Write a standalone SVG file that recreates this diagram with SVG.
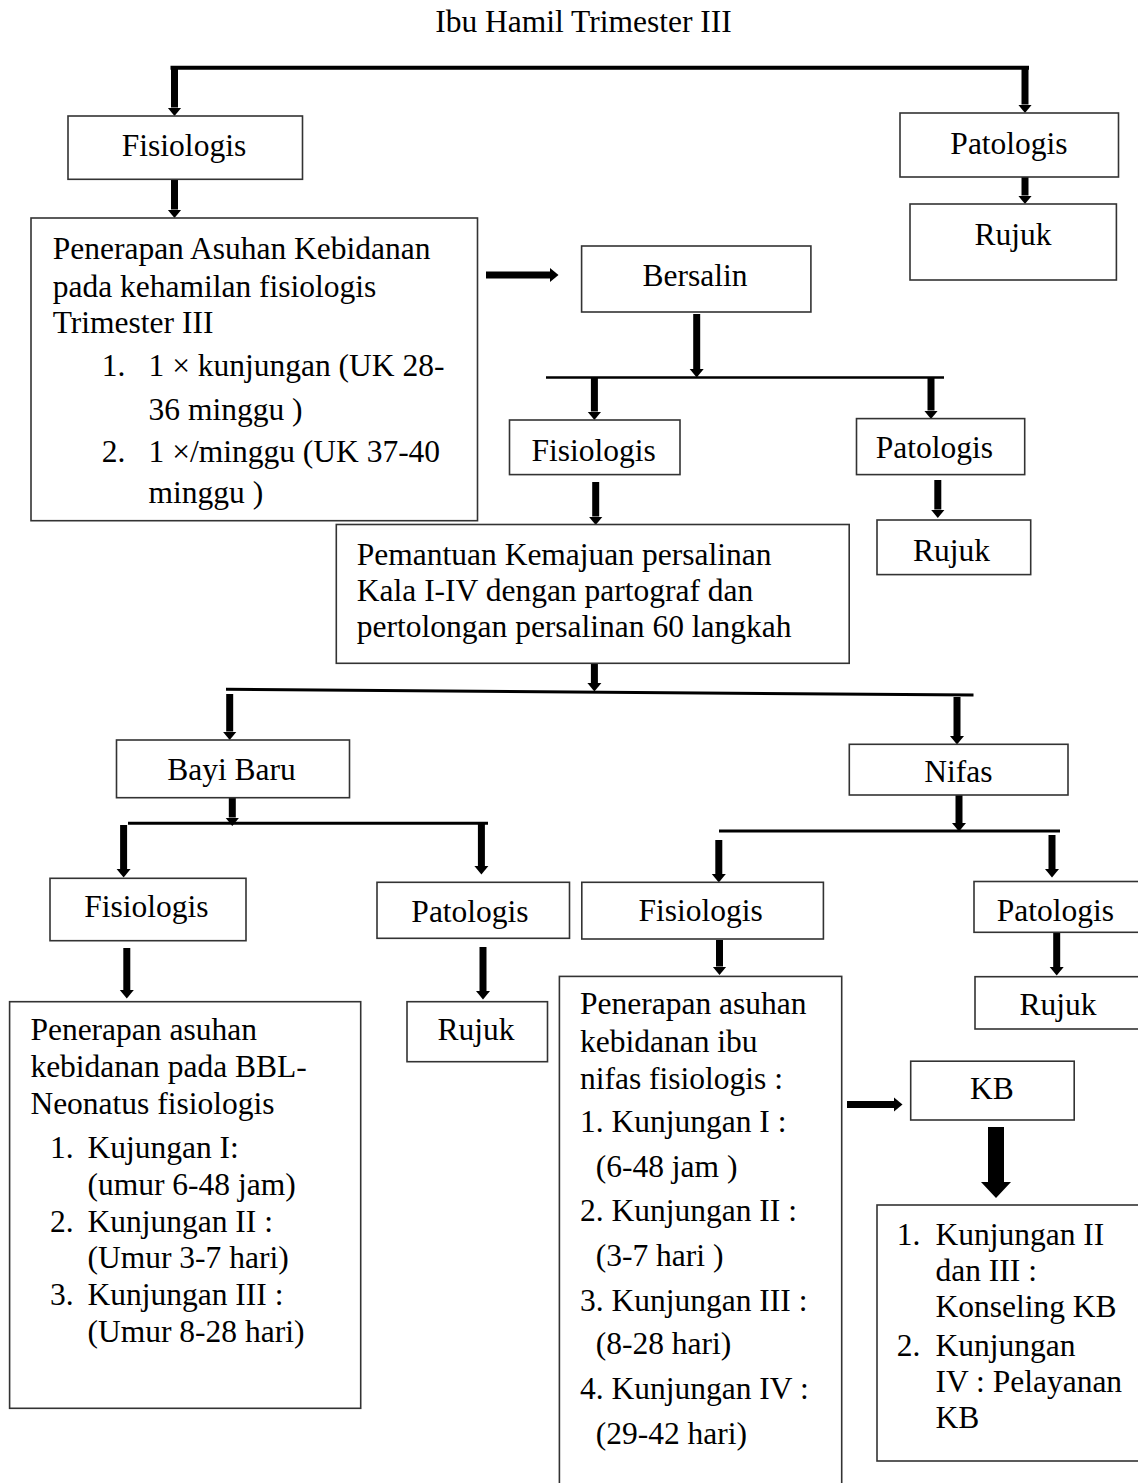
<svg xmlns="http://www.w3.org/2000/svg" width="1138" height="1483" viewBox="0 0 1138 1483">
<style>
  text { font-family: "Liberation Serif", "Times New Roman", serif; font-size: 31.5px; fill: #000; }
  .c { text-anchor: middle; }
  .box { fill: #fff; stroke: #333; stroke-width: 1.6; }
  .arr { stroke: #000; stroke-width: 7; fill: none; marker-end: url(#ah); }
  .bar { stroke: #000; fill: none; }
</style>
<defs>
  <marker id="ah" markerUnits="userSpaceOnUse" markerWidth="9" markerHeight="16" viewBox="0 -8 9 16" refX="0" refY="0" orient="auto">
    <path d="M0,-7 L8.5,0 L0,7 z" fill="#000"/>
  </marker>
</defs>
<rect x="0" y="0" width="1138" height="1483" fill="#fff"/>

<g id="title"><text class="c" x="583.5" y="32">Ibu Hamil Trimester III</text></g>

<g id="connectors">
  <path class="bar" stroke-width="4" d="M170.5,67.7 H1029"/>
  <path class="bar" stroke-width="2.5" d="M546,377.5 H944"/>
  <path class="bar" stroke-width="3" d="M226,689.3 L973.5,695"/>
  <path class="bar" stroke-width="3" d="M128,823.3 H488"/>
  <path class="bar" stroke-width="3" d="M719,831 H1060"/>

  <line class="arr" x1="174.5" y1="66" x2="174.5" y2="107.5"/>
  <line class="arr" x1="1025" y1="66" x2="1025" y2="104.5"/>
  <line class="arr" x1="174.5" y1="177" x2="174.5" y2="209.5"/>
  <line class="arr" x1="1025" y1="176" x2="1025" y2="195.5"/>
  <line class="arr" x1="486" y1="275" x2="550" y2="275"/>
  <line class="arr" x1="696.7" y1="314" x2="696.7" y2="369"/>
  <line class="arr" x1="594.4" y1="377" x2="594.4" y2="411.5"/>
  <line class="arr" x1="931" y1="377" x2="931" y2="410.5"/>
  <line class="arr" x1="595.7" y1="482" x2="595.7" y2="516.5"/>
  <line class="arr" x1="937.8" y1="480" x2="937.8" y2="509.5"/>
  <line class="arr" x1="594.4" y1="660" x2="594.4" y2="683"/>
  <line class="arr" x1="229.7" y1="694" x2="229.7" y2="731.5"/>
  <line class="arr" x1="957" y1="697" x2="957" y2="736"/>
  <line class="arr" x1="232.3" y1="792" x2="232.3" y2="817.5"/>
  <line class="arr" x1="123.6" y1="825" x2="123.6" y2="869"/>
  <line class="arr" x1="481.4" y1="822" x2="481.4" y2="866"/>
  <line class="arr" x1="959" y1="795" x2="959" y2="823"/>
  <line class="arr" x1="718.8" y1="840" x2="718.8" y2="874"/>
  <line class="arr" x1="1052" y1="835" x2="1052" y2="869"/>
  <line class="arr" x1="126.8" y1="948" x2="126.8" y2="990"/>
  <line class="arr" x1="483" y1="947" x2="483" y2="991"/>
  <line class="arr" x1="719.5" y1="940" x2="719.5" y2="966.5"/>
  <line class="arr" x1="1056.7" y1="932" x2="1056.7" y2="967"/>
  <line class="arr" x1="847" y1="1104.5" x2="894" y2="1104.5"/>
  <path d="M988,1127 H1004 V1182 H1011 L996,1198 L981,1182 H988 Z" fill="#000"/>
</g>

<g id="n-fisiologis1">
  <rect class="box" x="68" y="116" width="234.5" height="63.3"/>
  <text class="c" x="184" y="156">Fisiologis</text>
</g>
<g id="n-patologis1">
  <rect class="box" x="900" y="113" width="218.5" height="64"/>
  <text class="c" x="1009" y="154">Patologis</text>
</g>
<g id="n-rujuk1">
  <rect class="box" x="910" y="204" width="206.4" height="76"/>
  <text class="c" x="1013" y="244.6">Rujuk</text>
</g>
<g id="n-penerapan-hamil">
  <rect class="box" x="31" y="218" width="446.5" height="302.7"/>
  <text x="52.7" y="259.3">Penerapan Asuhan Kebidanan</text>
  <text x="52.7" y="296.7">pada kehamilan fisiologis</text>
  <text x="52.7" y="333.3">Trimester III</text>
  <text x="101.7" y="376">1.</text>
  <text x="148.5" y="376">1 × kunjungan (UK 28-</text>
  <text x="148.5" y="420">36 minggu )</text>
  <text x="101.7" y="461.7">2.</text>
  <text x="148.5" y="461.7">1 ×/minggu (UK 37-40</text>
  <text x="148.5" y="503.3">minggu )</text>
</g>
<g id="n-bersalin">
  <rect class="box" x="581.6" y="246" width="229.3" height="66"/>
  <text class="c" x="695" y="286.4">Bersalin</text>
</g>
<g id="n-fisiologis2">
  <rect class="box" x="509.5" y="420" width="170.5" height="54.6"/>
  <text class="c" x="593.6" y="461.4">Fisiologis</text>
</g>
<g id="n-patologis2">
  <rect class="box" x="856.5" y="418.6" width="168.2" height="56"/>
  <text class="c" x="934.4" y="458">Patologis</text>
</g>
<g id="n-rujuk2">
  <rect class="box" x="877" y="520" width="153.7" height="54.6"/>
  <text class="c" x="951.5" y="561">Rujuk</text>
</g>
<g id="n-pemantuan">
  <rect class="box" x="336.3" y="524.5" width="512.9" height="138.8"/>
  <text x="356.8" y="565">Pemantuan Kemajuan persalinan</text>
  <text x="356.8" y="600.7">Kala I-IV dengan partograf dan</text>
  <text x="356.8" y="636.7">pertolongan persalinan 60 langkah</text>
</g>
<g id="n-bayi">
  <rect class="box" x="116.5" y="740" width="233" height="57.7"/>
  <text class="c" x="231.5" y="780">Bayi Baru</text>
</g>
<g id="n-nifas">
  <rect class="box" x="849.3" y="744.3" width="218.7" height="50.7"/>
  <text class="c" x="958.3" y="781.7">Nifas</text>
</g>
<g id="n-fisiologis3">
  <rect class="box" x="50" y="878.3" width="196" height="62.4"/>
  <text class="c" x="146.4" y="916.7">Fisiologis</text>
</g>
<g id="n-patologis3">
  <rect class="box" x="377" y="882.3" width="192.5" height="56"/>
  <text class="c" x="470" y="921.7">Patologis</text>
</g>
<g id="n-fisiologis4">
  <rect class="box" x="581.8" y="882.3" width="241.6" height="56.7"/>
  <text class="c" x="700.6" y="920.7">Fisiologis</text>
</g>
<g id="n-patologis4">
  <rect class="box" x="974" y="881.5" width="180" height="50.8"/>
  <text class="c" x="1055.3" y="920.7">Patologis</text>
</g>
<g id="n-rujuk4">
  <rect class="box" x="975" y="976.7" width="180" height="52.3"/>
  <text class="c" x="1058" y="1015">Rujuk</text>
</g>
<g id="n-penerapan-bbl">
  <rect class="box" x="9.6" y="1001.7" width="351.1" height="406.6"/>
  <text x="30.4" y="1040">Penerapan asuhan</text>
  <text x="30.4" y="1077.3">kebidanan pada BBL-</text>
  <text x="30.4" y="1114">Neonatus fisiologis</text>
  <text x="50" y="1158.3">1.</text>
  <text x="87.5" y="1158.3">Kujungan I:</text>
  <text x="87.5" y="1195">(umur 6-48 jam)</text>
  <text x="50" y="1231.7">2.</text>
  <text x="87.5" y="1231.7">Kunjungan II :</text>
  <text x="87.5" y="1268.3">(Umur 3-7 hari)</text>
  <text x="50" y="1305">3.</text>
  <text x="87.5" y="1305">Kunjungan III :</text>
  <text x="87.5" y="1341.7">(Umur 8-28 hari)</text>
</g>
<g id="n-rujuk3">
  <rect class="box" x="407" y="1001.7" width="140.5" height="60"/>
  <text class="c" x="475.9" y="1040">Rujuk</text>
</g>
<g id="n-penerapan-nifas">
  <rect class="box" x="559.4" y="976.4" width="282.3" height="520"/>
  <text x="580" y="1014.4">Penerapan asuhan</text>
  <text x="580" y="1051.5">kebidanan ibu</text>
  <text x="580" y="1088.9">nifas fisiologis :</text>
  <text x="580" y="1132.2">1. Kunjungan I :</text>
  <text x="595.7" y="1177.2">(6-48 jam )</text>
  <text x="580" y="1220.5">2. Kunjungan II :</text>
  <text x="595.7" y="1265.5">(3-7 hari )</text>
  <text x="580" y="1310.5">3. Kunjungan III :</text>
  <text x="595.7" y="1353.8">(8-28 hari)</text>
  <text x="580" y="1398.8">4. Kunjungan IV :</text>
  <text x="595.7" y="1443.8">(29-42 hari)</text>
</g>
<g id="n-kb">
  <rect class="box" x="910.7" y="1061.2" width="163.5" height="58.8"/>
  <text class="c" x="991.9" y="1099.3">KB</text>
</g>
<g id="n-kb-list">
  <rect class="box" x="877" y="1205" width="280" height="256"/>
  <text x="896.8" y="1244.7">1.</text>
  <text x="935.5" y="1244.7">Kunjungan II</text>
  <text x="935.5" y="1281">dan III :</text>
  <text x="935.5" y="1317.4">Konseling KB</text>
  <text x="896.8" y="1355.5">2.</text>
  <text x="935.5" y="1355.5">Kunjungan</text>
  <text x="935.5" y="1391.9">IV : Pelayanan</text>
  <text x="935.5" y="1428.2">KB</text>
</g>
</svg>
